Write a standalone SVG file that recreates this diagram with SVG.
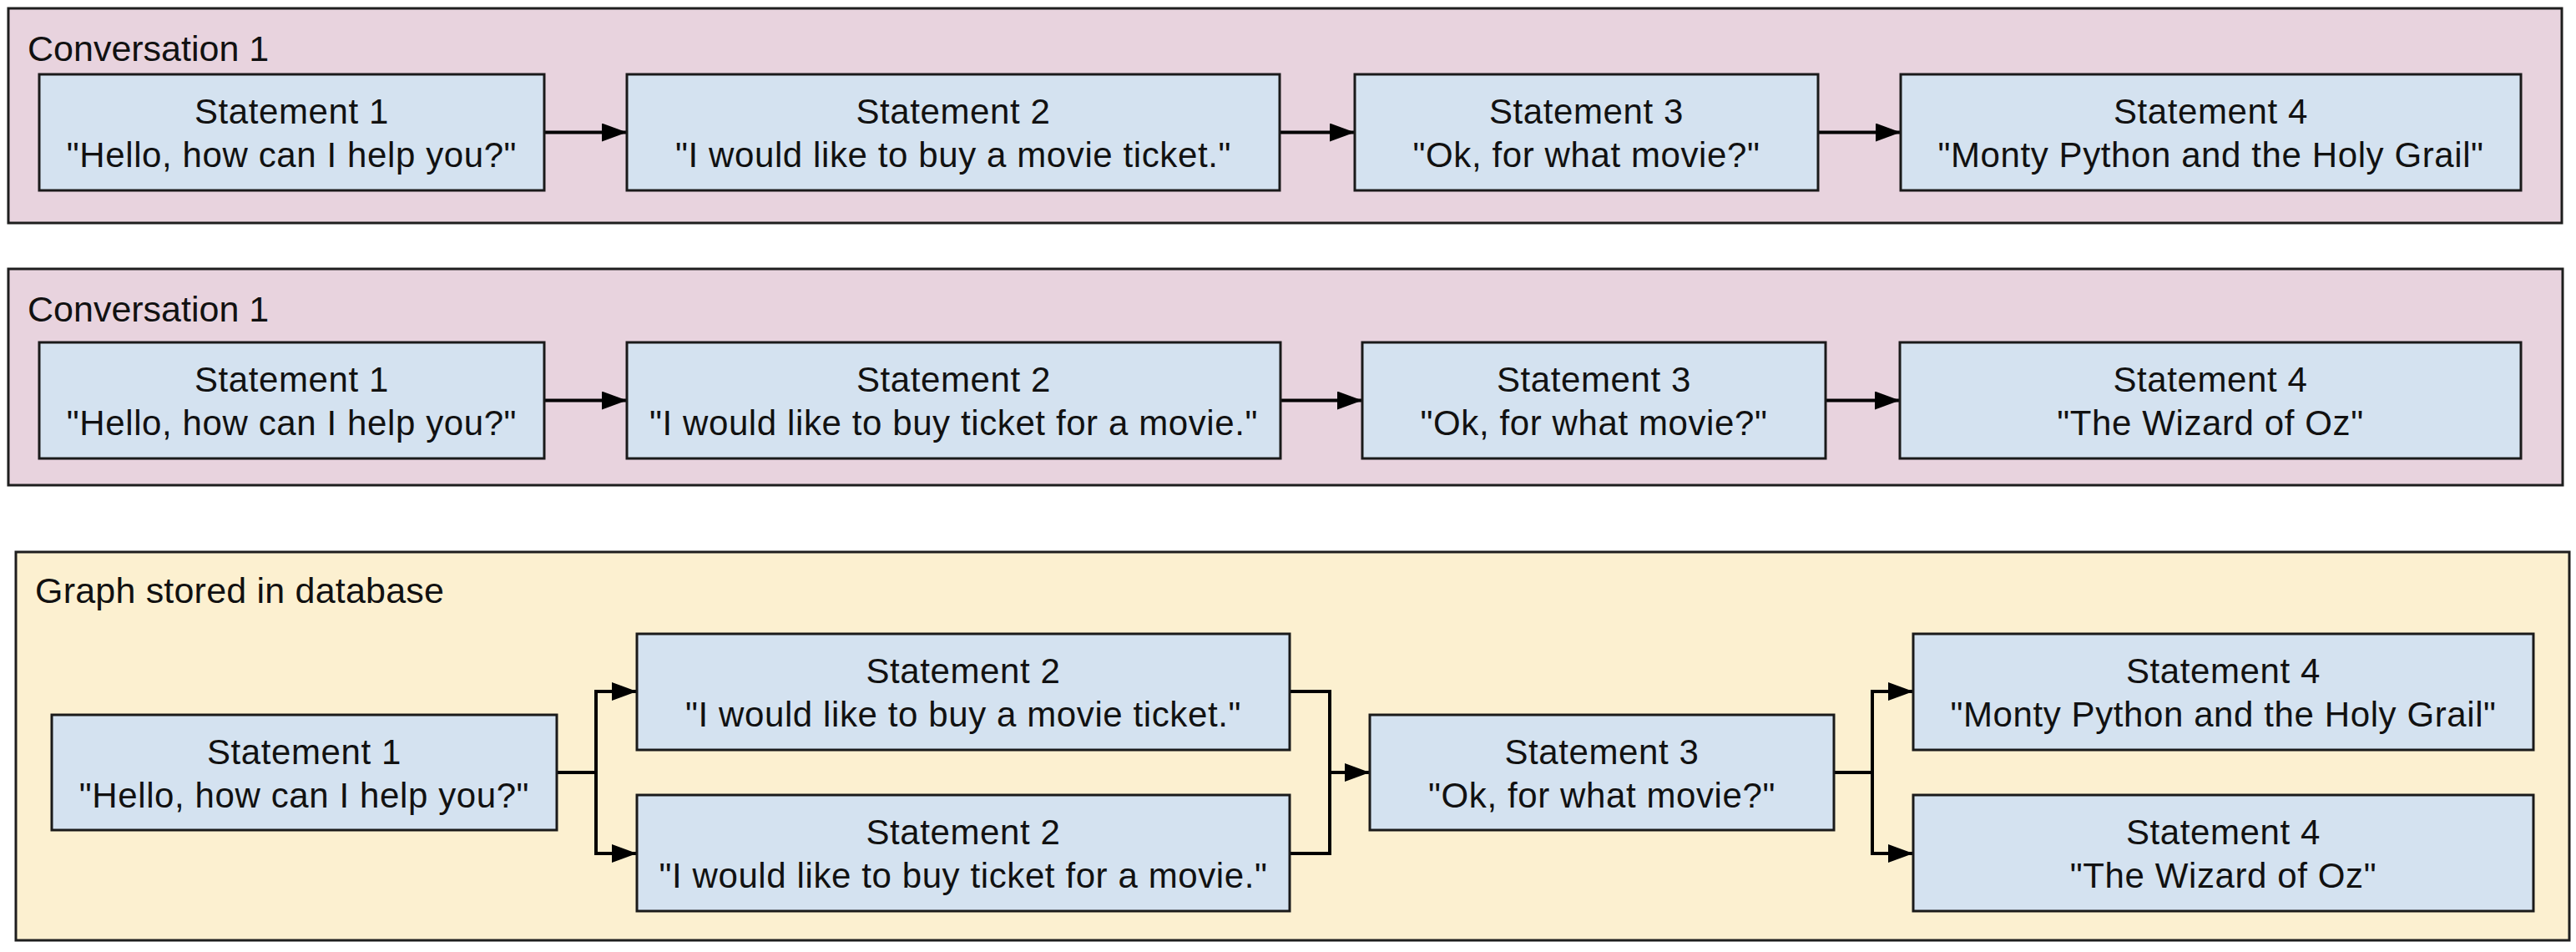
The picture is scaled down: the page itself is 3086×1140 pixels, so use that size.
<svg xmlns="http://www.w3.org/2000/svg" width="3086" height="1140" viewBox="0 0 3086 1140">
<style>
.bg{fill:#ffffff}
.pink{fill:#e8d3de;stroke:#1e1e1e;stroke-width:3}
.yellow{fill:#fcf0d0;stroke:#1e1e1e;stroke-width:3}
.box{fill:#d4e2f0;stroke:#1a1a1a;stroke-width:3}
.title{font-family:"Liberation Sans",Arial,sans-serif;font-size:43px;fill:#111}
.t{font-family:"Liberation Sans",Arial,sans-serif;font-size:42px;fill:#111;text-anchor:middle;letter-spacing:0.6px}
.c{fill:none;stroke:#000;stroke-width:4}
.a{marker-end:url(#arr)}
</style>
<defs>
<marker id="arr" markerUnits="userSpaceOnUse" markerWidth="30" markerHeight="22" refX="30" refY="11" orient="auto">
<path d="M0,0 L30,11 L0,22 Z" fill="#000"/>
</marker>
</defs>
<rect class="bg" x="0" y="0" width="3086" height="1140"/>

<g id="conversation1a">
<rect class="pink" x="10" y="10" width="3059" height="257"/>
<text class="title" x="33" y="73">Conversation 1</text>
</g>
<g id="conversation1b">
<rect class="pink" x="10" y="322" width="3060" height="259"/>
<text class="title" x="33" y="385">Conversation 1</text>
</g>
<g id="graph">
<rect class="yellow" x="19" y="661" width="3059" height="465"/>
<text class="title" x="42" y="722" style="letter-spacing:0.2px">Graph stored in database</text>
</g>

<g id="connectors">
<path class="c a" d="M652,158.5 H751"/>
<path class="c a" d="M1533,158.5 H1623"/>
<path class="c a" d="M2178,158.5 H2277"/>
<path class="c a" d="M652,479.5 H751"/>
<path class="c a" d="M1534,479.5 H1632"/>
<path class="c a" d="M2187,479.5 H2276"/>
<path class="c" d="M667,925 H714 M714,828 V1022"/>
<path class="c a" d="M712,828 H763"/>
<path class="c a" d="M712,1022 H763"/>
<path class="c" d="M1545,828 H1593 V1022 H1545"/>
<path class="c a" d="M1593,925 H1641"/>
<path class="c" d="M2197,925 H2243 M2243,828 V1022"/>
<path class="c a" d="M2241,828 H2292"/>
<path class="c a" d="M2241,1022 H2292"/>
</g>

<g id="r1s1"><rect class="box" x="47" y="89" width="605" height="139"/>
<text class="t" x="349.5" y="148">Statement 1</text><text class="t" x="349.5" y="200">"Hello, how can I help you?"</text></g>
<g id="r1s2"><rect class="box" x="751" y="89" width="782" height="139"/>
<text class="t" x="1142" y="148">Statement 2</text><text class="t" x="1142" y="200">"I would like to buy a movie ticket."</text></g>
<g id="r1s3"><rect class="box" x="1623" y="89" width="555" height="139"/>
<text class="t" x="1900.5" y="148">Statement 3</text><text class="t" x="1900.5" y="200">"Ok, for what movie?"</text></g>
<g id="r1s4"><rect class="box" x="2277" y="89" width="743" height="139"/>
<text class="t" x="2648.5" y="148">Statement 4</text><text class="t" x="2648.5" y="200">"Monty Python and the Holy Grail"</text></g>

<g id="r2s1"><rect class="box" x="47" y="410" width="605" height="139"/>
<text class="t" x="349.5" y="469">Statement 1</text><text class="t" x="349.5" y="521">"Hello, how can I help you?"</text></g>
<g id="r2s2"><rect class="box" x="751" y="410" width="783" height="139"/>
<text class="t" x="1142.5" y="469">Statement 2</text><text class="t" x="1142.5" y="521">"I would like to buy ticket for a movie."</text></g>
<g id="r2s3"><rect class="box" x="1632" y="410" width="555" height="139"/>
<text class="t" x="1909.5" y="469">Statement 3</text><text class="t" x="1909.5" y="521">"Ok, for what movie?"</text></g>
<g id="r2s4"><rect class="box" x="2276" y="410" width="744" height="139"/>
<text class="t" x="2648" y="469">Statement 4</text><text class="t" x="2648" y="521">"The Wizard of Oz"</text></g>

<g id="g1"><rect class="box" x="62" y="856" width="605" height="138"/>
<text class="t" x="364.5" y="915">Statement 1</text><text class="t" x="364.5" y="967">"Hello, how can I help you?"</text></g>
<g id="g2a"><rect class="box" x="763" y="759" width="782" height="139"/>
<text class="t" x="1154" y="818">Statement 2</text><text class="t" x="1154" y="870">"I would like to buy a movie ticket."</text></g>
<g id="g2b"><rect class="box" x="763" y="952" width="782" height="139"/>
<text class="t" x="1154" y="1011">Statement 2</text><text class="t" x="1154" y="1063">"I would like to buy ticket for a movie."</text></g>
<g id="g3"><rect class="box" x="1641" y="856" width="556" height="138"/>
<text class="t" x="1919" y="915">Statement 3</text><text class="t" x="1919" y="967">"Ok, for what movie?"</text></g>
<g id="g4a"><rect class="box" x="2292" y="759" width="743" height="139"/>
<text class="t" x="2663.5" y="818">Statement 4</text><text class="t" x="2663.5" y="870">"Monty Python and the Holy Grail"</text></g>
<g id="g4b"><rect class="box" x="2292" y="952" width="743" height="139"/>
<text class="t" x="2663.5" y="1011">Statement 4</text><text class="t" x="2663.5" y="1063">"The Wizard of Oz"</text></g>
</svg>
